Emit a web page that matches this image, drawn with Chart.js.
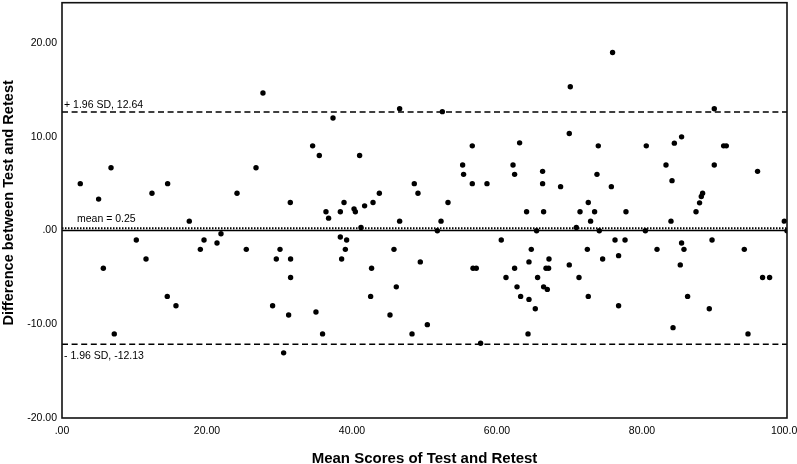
<!DOCTYPE html>
<html><head><meta charset="utf-8">
<script src="https://cdn.jsdelivr.net/npm/chart.js@4"></script>
<style>html,body{margin:0;padding:0;background:#fff}#wrap{width:797px;height:464px}</style>
</head><body><div id="wrap"><canvas id="c" width="797" height="464"></canvas></div>
<script>
const meanScores = [2.52,5.05,6.76,12.41,14.57,24.14,26.76,27.72,34.57,35.49,37.38,41.05,43.77,46.57,48.59,49.10,52.46,55.26,55.39,56.59,56.59,58.62,62.21,62.43,63.12,66.29,66.29,70.11,69.97,68.77,73.97,73.79,75.94,75.77,80.59,83.31,84.46,85.46,84.14,89.97,89.97,91.26,91.63,95.94,88.36,88.18,87.94,87.45,
31.49,17.56,10.25,11.59,5.70,7.21,14.52,15.72,19.59,19.08,21.93,21.38,25.42,30.07,29.56,31.53,31.53,29.05,31.26,30.57,
36.41,36.77,38.90,38.39,40.28,40.46,41.74,42.90,53.24,46.57,52.28,41.24,51.77,38.39,39.26,39.08,38.57,45.79,49.42,42.70,46.11,42.57,35.03,35.94,45.24,48.28,50.39,56.69,57.14,57.74,60.59,64.08,66.43,65.46,64.73,64.41,67.17,62.43,61.24,65.60,66.76,67.12,62.76,63.26,66.43,66.94,64.41,65.28,64.28,
71.45,72.59,73.46,72.91,70.94,74.11,77.79,76.28,77.66,72.46,74.57,76.77,69.97,71.31,72.59,76.77,80.46,82.07,84.00,85.46,85.79,85.28,86.29,84.28,89.66,89.28,94.11,94.62,96.63,97.60,99.63,100.00];
const differences = [5.0,3.35,6.7,3.97,5.0,3.97,6.7,14.66,9.03,8.0,12.0,8.0,3.97,12.99,5.0,3.97,12.68,6.99,5.99,9.03,5.0,5.0,6.99,5.99,9.35,6.31,5.0,15.33,10.34,4.68,9.03,5.99,18.98,4.68,9.03,6.99,9.32,9.99,5.32,12.99,6.99,9.03,9.03,6.31,3.97,3.62,2.95,2.0,
2.98,1.0,-1.02,-3.04,-4.02,-11.03,-7.03,-8.03,-1.02,-2.01,-0.34,-1.34,-2.01,-2.01,-3.04,-3.04,-5.01,-8.03,-9.01,-13.05,
2.0,1.32,2.98,2.0,2.31,2.0,2.63,2.98,2.98,1.0,1.0,0.33,-0.02,-0.70,-1.02,-2.01,-3.04,-2.01,-3.35,-4.02,-6.01,-7.03,-8.69,-11.03,-9.01,-11.03,-10.04,-4.02,-4.02,-12.02,-1.02,2.0,2.0,-0.02,-2.01,-3.35,-3.04,-4.02,-5.01,-5.01,-4.02,-4.02,-6.01,-7.03,-6.01,-6.28,-7.35,-8.34,-11.03,
2.0,2.98,2.0,1.0,0.33,-0.02,2.0,-1.02,-1.02,-2.01,-3.04,-2.68,-3.67,-5.01,-7.03,-8.03,-0.02,-2.01,1.0,-1.34,-2.01,-3.67,-7.03,-10.36,-1.02,-8.34,-2.01,-11.03,-5.01,-5.01,1.0,-0.02];
const meanDiff = [0.25];
const upperLoA = [12.64];
const lowerLoA = [-12.13];
const zeroLine = [0];
const xRange = [0, 100];
const xTicks = [0, 20, 40, 60, 80, 100];
const yTicks = [-20, -10, 0, 10, 20];
const refLabels = ['+ 1.96 SD, 12.64', 'mean = 0.25', '- 1.96 SD, -12.13'];
const xTitle = 'Mean Scores of Test and Retest';
const yTitle = 'Difference between Test and Retest';

function fmt(v){ const s = v.toFixed(2); return s.replace(/^0\./,'.').replace(/^-0\./,'-.'); }
function hline(val, opts){
  return Object.assign({type:'line', data: xRange.map(x=>({x:x, y:val})), borderColor:'#000', pointRadius:0, fill:false}, opts);
}

const points = meanScores.map((m,i)=>({x:m, y:differences[i]}));

const FONT = '"Liberation Sans", Arial, sans-serif';

const decor = {
  id:'decor',
  afterDatasetsDraw(chart){
    const {ctx, chartArea:a, scales:{x, y}} = chart;
    ctx.save();
    ctx.strokeStyle = '#111';
    ctx.lineWidth = 1.6;
    ctx.strokeRect(a.left, a.top, a.right - a.left, a.bottom - a.top);
    ctx.fillStyle = '#000';
    ctx.font = '10.5px ' + FONT;
    ctx.textBaseline = 'middle';
    ctx.textAlign = 'left';
    const x0 = x.getPixelForValue(0);
    ctx.fillText(refLabels[0], x0 + 2, y.getPixelForValue(upperLoA[0]) - 7);
    ctx.fillText(refLabels[1], x0 + 15, y.getPixelForValue(meanDiff[0]) - 9);
    ctx.fillText(refLabels[2], x0 + 2, y.getPixelForValue(lowerLoA[0]) + 11.5);
    // y-axis title
    ctx.translate(8.8, y.getPixelForValue(2.95));
    ctx.rotate(-Math.PI/2);
    ctx.textAlign = 'center';
    ctx.font = 'bold 14.6px ' + FONT;
    ctx.fillText(yTitle, 0, 0);
    ctx.restore();
  }
};

new Chart(document.getElementById('c'), {
  type: 'scatter',
  data: { datasets: [
    {data: points, backgroundColor:'#000', borderWidth:0, pointRadius:2.7, pointHoverRadius:2.7},
    hline(upperLoA[0], {borderWidth:1.6, borderDash:[6,3.6]}),
    hline(lowerLoA[0], {borderWidth:1.6, borderDash:[6,3.6]}),
    hline(meanDiff[0], {borderWidth:2, borderDash:[1.5,1.5]}),
    hline(zeroLine[0], {borderWidth:1.5})
  ]},
  options: {
    responsive:false, animation:false, devicePixelRatio:1,
    layout:{padding:{left:0,right:10,top:1,bottom:0}},
    plugins:{legend:{display:false}, tooltip:{enabled:false}},
    scales:{
      x:{type:'linear', min:xRange[0], max:xRange[1],
        grid:{display:false, drawTicks:false}, border:{display:false},
        afterBuildTicks: s => { s.ticks = xTicks.map(v=>({value:v})); },
        ticks:{color:'#000', font:{family:FONT, size:10.5}, padding:7, maxRotation:0, autoSkip:false, callback:v=>fmt(v)},
        title:{display:true, text:xTitle, color:'#000', font:{family:FONT, size:15, weight:'bold', lineHeight:1}, padding:{top:0,bottom:-2.3}},
        afterFit: s => { s.height = 46; s.paddingLeft = 0; s.paddingRight = 0; }
      },
      y:{type:'linear', min:-20, max:24.3,
        grid:{display:false, drawTicks:false}, border:{display:false},
        afterBuildTicks: s => { s.ticks = yTicks.map(v=>({value:v})); },
        ticks:{color:'#000', font:{family:FONT, size:10.5}, padding:5, autoSkip:false, callback:v=>fmt(v)},
        title:{display:false},
        afterFit: s => { s.width = 62; s.paddingTop = 0; s.paddingBottom = 0; }
      }
    }
  },
  plugins:[decor]
});
</script></body></html>
